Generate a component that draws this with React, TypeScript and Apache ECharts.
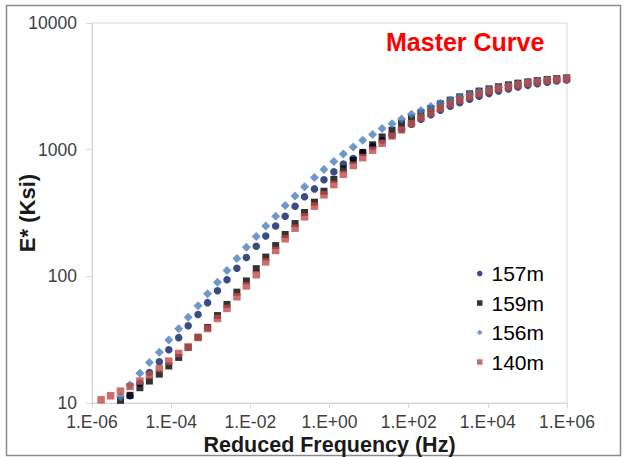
import React, { useEffect, useRef } from "react";
import * as echarts from "echarts";

// log10 of reduced frequency (Hz) for each measured point
const logFreq = [
  -5.77, -5.53, -5.28, -5.04, -4.79, -4.55, -4.3, -4.06, -3.81, -3.57,
  -3.32, -3.08, -2.83, -2.59, -2.34, -2.1, -1.85, -1.61, -1.36, -1.12,
  -0.87, -0.63, -0.38, -0.14, 0.11, 0.35, 0.6, 0.84, 1.09, 1.33,
  1.58, 1.82, 2.07, 2.31, 2.56, 2.8, 3.05, 3.29, 3.54, 3.78,
  4.03, 4.27, 4.52, 4.76, 5.01, 5.25, 5.5, 5.74, 5.99,
];

const s157m = [
  null, null, null, 11.4, 14.3, 17.4, 21.2, 26.3, 32.8, 40.7,
  50, 62, 77, 94, 116, 141, 173, 208, 250, 298,
  358, 425, 490, 578, 670, 770, 850, 950, 1060, 1180,
  1300, 1450, 1590, 1740, 1890, 2050, 2200, 2350, 2500, 2640,
  2770, 2900, 3010, 3120, 3220, 3320, 3400, 3480, 3550,
];

const s159m = [
  null, null, 10.5, 11.5, 13.2, 14.9, 16.9, 19.6, 22.9, 27.5,
  33, 39.5, 49, 60, 75, 92, 115, 142, 175, 214,
  261, 319, 385, 470, 583, 705, 822, 951, 1093, 1260,
  1423, 1607, 1775, 1950, 2110, 2300, 2460, 2610, 2760, 2900,
  3020, 3140, 3250, 3350, 3430, 3510, 3580, 3640, 3690,
];

const s156m = [
  null, null, 11.2, 13.9, 17.2, 20.9, 25.2, 31.5, 38.5, 47.5,
  58.6, 73, 90, 111, 138, 170, 206, 250, 298, 363,
  430, 510, 603, 697, 805, 925, 1048, 1185, 1320, 1470,
  1600, 1750, 1900, 2040, 2190, 2330, 2470, 2610, 2750, 2880,
  3000, 3110, 3210, 3310, 3400, 3480, 3560, 3620, 3680,
];

const s140m = [
  10.6, 11.4, 12.4, 13.5, 14.9, 16.6, 18.7, 21.4, 24.6, 27.7,
  32.9, 38.7, 46.5, 55.8, 69, 84, 103, 130, 160, 198,
  240, 295, 358, 440, 530, 640, 750, 865, 990, 1124,
  1284, 1434, 1607, 1786, 1950, 2130, 2300, 2460, 2620, 2770,
  2910, 3040, 3130, 3250, 3350, 3430, 3510, 3580, 3620,
];

const seriesNames = ["157m", "159m", "156m", "140m"];
const yTicks = [10, 100, 1000, 10000];

const FONT = "'Liberation Sans', Arial, Helvetica, sans-serif";

function pairs(vals: (number | null)[]) {
  const out: number[][] = [];
  vals.forEach((v, i) => {
    if (v != null) out.push([Math.pow(10, logFreq[i]), v]);
  });
  return out;
}

export default function App() {
  const ref = useRef<HTMLDivElement>(null);
  useEffect(() => {
    if (!ref.current) return;
    const chart = echarts.init(ref.current, undefined, { renderer: "svg" });
    const axisColor = "#d9d9d9";
    chart.setOption({
      animation: false,
      backgroundColor: "#ffffff",
      title: {
        text: "Master Curve",
        left: 386,
        top: 29,
        padding: 0,
        textStyle: { color: "#ff0000", fontSize: 25, fontWeight: "bold", fontFamily: FONT },
      },
      graphic: [
        {
          type: "rect",
          silent: true,
          shape: { x: 6.5, y: 5.5, width: 614, height: 450 },
          style: { fill: "none", stroke: "#8a8a8a", lineWidth: 1.5 },
        },
      ],
      legend: {
        orient: "vertical",
        left: 477,
        top: 263,
        itemWidth: 5.5,
        itemHeight: 5.5,
        itemGap: 8.5,
        padding: 0,
        data: seriesNames,
        textStyle: { fontSize: 21, lineHeight: 21, color: "#000", fontFamily: FONT, padding: [0, 0, 0, 4] },
      },
      grid: {
        left: 92,
        right: 61,
        top: 23,
        bottom: 54,
        show: true,
        borderColor: axisColor,
        borderWidth: 1,
        containLabel: false,
        outerBoundsMode: "none",
      },
      xAxis: {
        type: "log",
        logBase: 10,
        min: 1e-6,
        max: 1e6,
        interval: 2,
        name: "Reduced Frequency (Hz)",
        nameLocation: "middle",
        nameGap: 31,
        nameMoveOverlap: false,
        nameTextStyle: { fontSize: 21.5, fontWeight: "bold", color: "#1a1a1a", fontFamily: FONT },
        axisLine: { show: true, lineStyle: { color: axisColor, width: 1 } },
        axisTick: { show: true, inside: false, length: 5, lineStyle: { color: axisColor } },
        splitLine: { show: false },
        minorTick: { show: false },
        axisLabel: {
          margin: 10,
          fontSize: 17.5,
          color: "#404040",
          fontFamily: FONT,
          formatter: (v: number) => {
            const e = Math.round(Math.log10(v));
            return "1.E" + (e < 0 ? "-" : "+") + String(Math.abs(e)).padStart(2, "0");
          },
        },
      },
      yAxis: {
        type: "log",
        logBase: 10,
        min: yTicks[0],
        max: yTicks[yTicks.length - 1],
        interval: 1,
        name: "E* (Ksi)",
        nameLocation: "middle",
        nameGap: 54,
        nameMoveOverlap: false,
        nameTextStyle: { fontSize: 22, fontWeight: "bold", color: "#1a1a1a", fontFamily: FONT },
        axisLine: { show: true, lineStyle: { color: axisColor, width: 1 } },
        axisTick: { show: true, inside: false, length: 6, lineStyle: { color: axisColor } },
        splitLine: { show: false },
        axisLabel: {
          margin: 15,
          fontSize: 17.5,
          color: "#404040",
          fontFamily: FONT,
          formatter: (v: number) => String(Math.round(v)),
        },
      },
      series: [
        {
          name: seriesNames[0],
          type: "scatter",
          symbol: "circle",
          symbolSize: 7.5,
          itemStyle: { color: "#0a1f66" },
          data: pairs(s157m),
        },
        {
          name: seriesNames[1],
          type: "scatter",
          symbol: "rect",
          symbolSize: 7,
          itemStyle: { color: "#000000" },
          data: pairs(s159m),
        },
        {
          name: seriesNames[2],
          type: "scatter",
          symbol: "diamond",
          symbolSize: 9,
          itemStyle: { color: "#4a7ebb" },
          data: pairs(s156m),
        },
        {
          name: seriesNames[3],
          type: "scatter",
          symbol: "rect",
          symbolSize: 7.5,
          itemStyle: { color: "#be4b48" },
          data: pairs(s140m),
        },
      ],
    });
    return () => chart.dispose();
  }, []);
  return (
    <div
      ref={ref}
      style={{ position: "fixed", left: 0, top: 0, width: 628, height: 457, background: "#fff" }}
    />
  );
}
